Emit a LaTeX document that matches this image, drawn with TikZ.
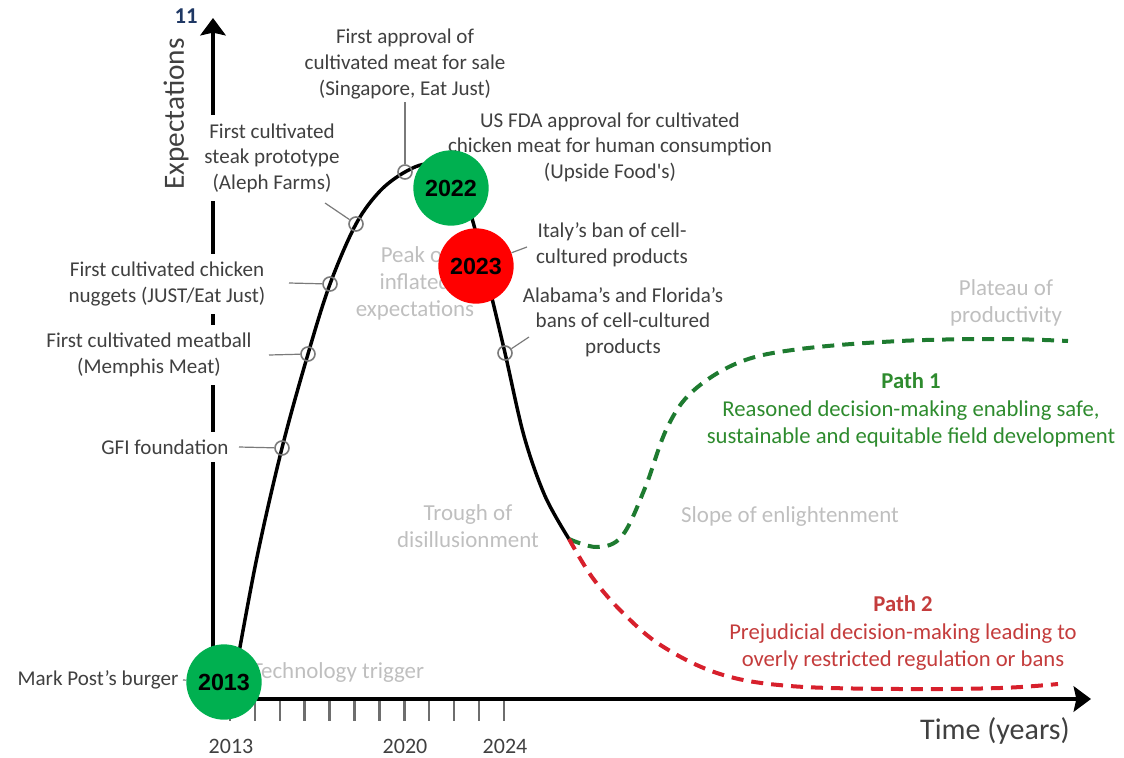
\documentclass[tikz,border=0pt]{standalone}
\usepackage{fontspec}
\setmainfont{Carlito}
\newfontfamily\numfont{Liberation Sans}
\usetikzlibrary{arrows.meta}

\definecolor{labelgray}{HTML}{404040}
\definecolor{stagegray}{HTML}{BFBFBF}
\definecolor{conngray}{HTML}{7A7A7A}
\definecolor{tickgray}{HTML}{6E6E6E}
\definecolor{yeargreen}{HTML}{00B050}
\definecolor{yearred}{HTML}{FF0000}
\definecolor{pathgreen}{HTML}{1E7B30}
\definecolor{pathgreentext}{HTML}{2E8B2E}
\definecolor{pathred}{HTML}{D7202C}
\definecolor{pathredtext}{HTML}{C43C3C}
\definecolor{pagenum}{HTML}{1F3864}

\tikzset{
  evtext/.style={text=labelgray, font=\fontsize{15.8}{19.2}\selectfont, align=center, inner sep=0pt},
  evbox/.style={evtext, fill=white, inner xsep=2pt, inner ysep=6pt},
  stage/.style={text=stagegray, font=\fontsize{17.2}{20.3}\selectfont, align=center, inner sep=0pt},
  pathtext/.style={font=\fontsize{17}{20.6}\selectfont, align=center, inner sep=0pt},
  conn/.style={conngray, line width=0.9pt},
  evdot/.style={circle, draw=conngray, line width=1.2pt, minimum size=10.5pt, inner sep=0pt},
  bigc/.style={circle, minimum size=56.5pt, inner sep=0pt, font=\numfont\bfseries\fontsize{17.5}{20}\selectfont},
  axis/.style={line width=3pt, -{Stealth[length=13pt, width=19pt, inset=2pt]}},
  tick/.style={tickgray, line width=1.9pt},
  yr/.style={text=labelgray, font=\fontsize{16.5}{20}\selectfont, inner sep=0pt},
  hype/.style={line width=2.6pt, line cap=round},
  path1/.style={pathgreen, line width=3pt, dash pattern=on 9pt off 6pt},
  path2/.style={pathred, line width=3pt, dash pattern=on 9pt off 6pt},
}

\begin{document}
\begin{tikzpicture}[x=0.75pt, y=-0.75pt]
\useasboundingbox (0,0) rectangle (1124,757);

% axes
\coordinate (origin) at (213,699);
\coordinate (ytop) at (213,18);
\coordinate (xend) at (1091,699);
\draw[axis] (origin) -- (ytop);
\draw[axis] ([xshift=-1.5pt]origin) -- (xend);

% year ticks
\foreach \i in {0,...,11}
  \draw[tick] (230+24.9*\i,701) -- (230+24.9*\i,721);

% axis titles
\node[text=labelgray, font=\fontsize{22}{26}\selectfont, rotate=90, inner sep=0pt] (ylab) at (176,114) {Expectations};
\node[text=labelgray, font=\fontsize{22.5}{26}\selectfont, inner sep=0pt] (xlab) at (995,731) {Time (years)};
\node[text=pagenum, font=\bfseries\fontsize{17}{18}\selectfont, inner sep=0pt] (pnum) at (186,16) {11};

% year labels
\node[yr] (t2013) at (231,746) {2013};
\node[yr] (t2020) at (405,746) {2020};
\node[yr] (t2024) at (505,746) {2024};

% milestone labels
\node[evtext] (sing) at (405,64) {First approval of\\cultivated meat for sale\\(Singapore, Eat Just)};
\node[evbox] (aleph) at (272,158) {First cultivated\\steak prototype\\(Aleph Farms)};
\node[evtext] (fda) at (610,147) {US FDA approval for cultivated\\chicken meat for human consumption\\(Upside Food\textquotesingle s)};
\node[evtext] (italy) at (612,245) {Italy’s ban of cell-\\cultured products};
\node[evtext] (alab) at (623,322) {Alabama’s and Florida’s\\bans of cell-cultured\\products};
\node[evbox] (nugg) at (167,284) {First cultivated chicken\\nuggets (JUST/Eat Just)};
\node[evbox] (meat) at (149,355) {First cultivated meatball\\(Memphis Meat)};
\node[evbox] (gfi) at (165,447) {GFI foundation};
\node[evtext] (post) at (98,680) {Mark Post’s burger};

% hype-cycle phases
\node[stage] (peak) at (415,283) {Peak of\\inflated\\expectations};
\node[stage] (trig) at (338,672) {Technology trigger};
\node[stage] (trough) at (468,526) {Trough of\\disillusionment};
\node[stage] (slope) at (790,517) {Slope of enlightenment};
\node[stage] (plat) at (1006,303) {Plateau of\\productivity};

% scenario labels
\node[pathtext, text=pathgreentext] (p1) at (911,410) {\textbf{Path 1}\\Reasoned decision-making enabling safe,\\sustainable and equitable field development};
\node[pathtext, text=pathredtext] (p2) at (903,633) {\textbf{Path 2}\\Prejudicial decision-making leading to\\overly restricted regulation or bans};

% hype curve
\coordinate (fork) at (569,539);
\draw[hype] plot[smooth, tension=0.55] coordinates {(231,697) (256,562) (282,448) (308,354) (330,284) (356,224) (380,191) (405,172) (428,164) (452,174) (470,212) (488,282) (505,353) (524,436) (545,496) (569,539)};

% future scenarios
\draw[path1] plot[smooth, tension=0.6] coordinates {(fork) (597,547) (622,536) (645,488) (667,428) (693,391) (740,362) (800,349) (900,341) (1000,339) (1068,341)};
\draw[path2] plot[smooth, tension=0.6] coordinates {(fork) (592,577) (622,612) (662,646) (720,674) (790,686) (900,689) (1000,688) (1058,684)};

% milestone markers
\node[evdot] (e1) at (282,448) {};
\node[evdot] (e2) at (308,354) {};
\node[evdot] (e3) at (330,284) {};
\node[evdot] (e4) at (356,224) {};
\node[evdot] (e5) at (405,172) {};
\node[evdot] (e6) at (505,353) {};

\coordinate (l1) at (239,447);
\coordinate (l2) at (269,355);
\coordinate (l3) at (289,283);
\coordinate (l4) at (325,203);
\coordinate (l5) at (405,102);
\coordinate (l6) at (529,337);
\coordinate (l7) at (527,247);
\coordinate (l8) at (183,680);
\draw[conn] (l1) -- (e1);
\draw[conn] (l2) -- (e2);
\draw[conn] (l3) -- (e3);
\draw[conn] (l4) -- (e4);
\draw[conn] (l5) -- (e5);
\draw[conn] (l6) -- (e6);

% year badges
\node[bigc, fill=yeargreen] (b2013) at (224,682) {2013};
\node[bigc, fill=yeargreen] (b2022) at (451,188) {2022};
\node[bigc, fill=yearred] (b2023) at (476,266) {2023};
\draw[conn] (b2023) -- (l7);
\draw[conn] (l8) -- (b2013);
\end{tikzpicture}
\end{document}
